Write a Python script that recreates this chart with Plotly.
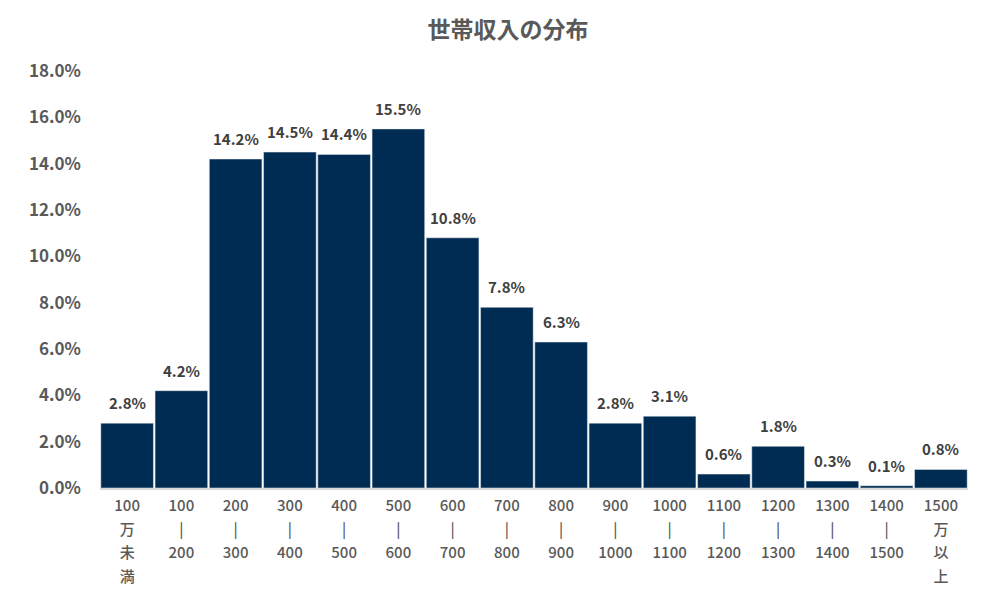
import plotly.graph_objects as go

categories = ["100<br>万<br>未<br>満", "100<br>|<br>200", "200<br>|<br>300", "300<br>|<br>400",
              "400<br>|<br>500", "500<br>|<br>600", "600<br>|<br>700", "700<br>|<br>800",
              "800<br>|<br>900", "900<br>|<br>1000", "1000<br>|<br>1100", "1100<br>|<br>1200",
              "1200<br>|<br>1300", "1300<br>|<br>1400", "1400<br>|<br>1500", "1500<br>万<br>以<br>上"]
values = [2.8, 4.2, 14.2, 14.5, 14.4, 15.5, 10.8, 7.8, 6.3, 2.8, 3.1, 0.6, 1.8, 0.3, 0.1, 0.8]
labels = [f"{v:.1f}%" for v in values]
y_ticks = [0, 2, 4, 6, 8, 10, 12, 14, 16, 18]

FONT = "Noto Sans CJK JP"

x_idx = list(range(len(categories)))
ticktext = ["<br>".join(f'<span style="font-size:15px">{p}</span>' for p in c.split("<br>"))
            for c in categories]

fig = go.Figure(go.Bar(
    x=x_idx,
    y=values,
    marker=dict(color="#002b52", line=dict(color="#e8ecf0", width=0.5)),
    hoverinfo="skip",
))

for xi, v, lab in zip(x_idx, values, labels):
    fig.add_annotation(x=xi, y=v, text=lab, showarrow=False, yanchor="bottom",
                       yshift=8,
                       font=dict(family=FONT, size=15, color="#404040", weight="bold"))

fig.update_layout(
    width=1000, height=599,
    margin=dict(l=92, r=40, t=63, b=119),
    paper_bgcolor="white", plot_bgcolor="white",
    bargap=0.03,
    showlegend=False,
    title=dict(text="世帯収入の分布", x=0.5, xanchor="center", y=0.963, yanchor="middle",
               font=dict(family=FONT, size=23, color="#595959", weight="bold")),
    font=dict(family=FONT, color="#595959"),
)
fig.update_xaxes(
    tickmode="array", tickvals=x_idx, ticktext=ticktext,
    tickangle=0, showgrid=False, showline=True, linecolor="#d9d9d9", linewidth=1.5,
    ticks="", tickfont=dict(family=FONT, size=18, color="#595959", weight=500),
    range=[-0.5, len(categories) - 0.5], ticklabelstandoff=0,
)
fig.update_yaxes(
    range=[0, 18], tickmode="array", tickvals=y_ticks,
    ticktext=[f"{t:.1f}%" for t in y_ticks], showgrid=False, zeroline=False,
    showline=False, ticks="", ticklabelstandoff=18,
    tickfont=dict(family=FONT, size=17, color="#595959", weight="bold"),
)

fig.write_html("out.html")
